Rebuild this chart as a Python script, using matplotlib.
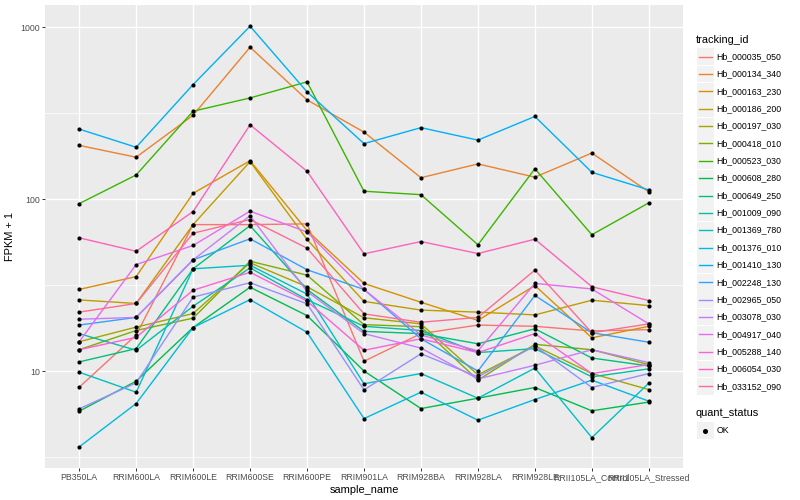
import numpy as np
import matplotlib
matplotlib.use("Agg")
import matplotlib.pyplot as plt
from matplotlib.patches import Rectangle
from matplotlib.lines import Line2D
from matplotlib.ticker import FixedLocator, NullFormatter

plt.rcParams["font.family"] = ["Liberation Sans", "DejaVu Sans"]

# ---- data ----
samples = [
    "PB350LA", "RRIM600LA", "RRIM600LE", "RRIM600SE", "RRIM600PE",
    "RRIM901LA", "RRIM928BA", "RRIM928LA", "RRIM928LE",
    "RRII105LA_Control", "RRII105LA_Stressed",
]
tracking_ids = [
    "Hb_000035_050", "Hb_000134_340", "Hb_000163_230", "Hb_000186_200",
    "Hb_000197_030", "Hb_000418_010", "Hb_000523_030", "Hb_000608_280",
    "Hb_000649_250", "Hb_001009_090", "Hb_001369_780", "Hb_001376_010",
    "Hb_001410_130", "Hb_002248_130", "Hb_002965_050", "Hb_003078_030",
    "Hb_004917_040", "Hb_005288_140", "Hb_006054_030", "Hb_033152_090",
]

# FPKM + 1 per gene, one value per sample
hb_000035_050 = [8.05, 16.2, 71, 71, 71.7, 11.4, 16.5, 18.5, 18.2, 17.1, 17.4]
hb_000134_340 = [205, 175, 307, 763, 377, 245, 133, 160, 134, 185, 110]
hb_000163_230 = [29.8, 35.4, 108, 167, 65.6, 32.3, 25.1, 19.7, 31.4, 15.6, 18.2]
hb_000186_200 = [25.9, 24.7, 71, 165, 58.2, 25.4, 22.6, 22.0, 21.2, 25.8, 24.0]
hb_000197_030 = [14.8, 18.0, 21.6, 42.6, 30.9, 20.4, 18.8, 9.5, 14.0, 9.67, 7.8]
hb_000418_010 = [13.3, 17.2, 20.3, 43.5, 36.1, 18.6, 18.1, 8.85, 14.3, 13.3, 10.9]
hb_000523_030 = [94, 138, 324, 387, 480, 111, 106, 54.2, 150, 62, 95]
hb_000608_280 = [5.84, 8.73, 17.9, 30.7, 21.0, 10.0, 6.05, 6.95, 8.02, 5.87, 6.6]
hb_000649_250 = [11.3, 13.5, 39.3, 70, 29.8, 17.0, 16.5, 14.4, 17.6, 11.9, 10.7]
hb_001009_090 = [16.5, 13.2, 23.8, 39.8, 26.0, 18.2, 17.2, 12.8, 13.5, 9.25, 10.3]
hb_001369_780 = [9.84, 7.53, 39.3, 41.2, 28.0, 8.43, 9.67, 6.95, 10.4, 4.1, 8.5]
hb_001376_010 = [3.62, 6.47, 17.9, 26.0, 16.8, 5.29, 7.53, 5.18, 6.83, 8.85, 6.68]
hb_001410_130 = [255, 200, 463, 1011, 420, 210, 260, 220, 302, 143, 113]
hb_002248_130 = [18.5, 20.5, 44.3, 58.7, 38.8, 29.8, 15.4, 10.0, 27.5, 16.7, 14.7]
hb_002965_050 = [6.03, 8.53, 26.9, 32.6, 24.6, 7.77, 12.6, 9.25, 14.0, 8.02, 9.67]
hb_003078_030 = [20.0, 20.5, 44.3, 80, 29.0, 16.5, 13.6, 9.0, 10.8, 13.3, 11.2]
hb_004917_040 = [14.8, 41.6, 53.7, 85, 64.3, 29.8, 16.2, 13.1, 32.3, 30.0, 18.8]
hb_005288_140 = [13.3, 15.7, 29.5, 37.5, 25.5, 13.2, 15.4, 12.8, 16.5, 9.67, 10.9]
hb_006054_030 = [59.5, 49.7, 84.6, 270, 145, 48, 56.6, 48.2, 58.4, 30.9, 25.7]
hb_033152_090 = [22.0, 24.7, 63.3, 76, 51.8, 21.5, 19.2, 20.5, 38.6, 16.7, 18.8]

series = [
    hb_000035_050, hb_000134_340, hb_000163_230, hb_000186_200,
    hb_000197_030, hb_000418_010, hb_000523_030, hb_000608_280,
    hb_000649_250, hb_001009_090, hb_001369_780, hb_001376_010,
    hb_001410_130, hb_002248_130, hb_002965_050, hb_003078_030,
    hb_004917_040, hb_005288_140, hb_006054_030, hb_033152_090,
]

y_ticks = [10, 100, 1000]
y_tick_labels = ["10", "100", "1000"]

# ggplot2 default hue palette for 20 levels
colors = [
    "#F8766D", "#EA8331", "#D89000", "#C09B00", "#A3A500",
    "#7CAE00", "#39B600", "#00BB4E", "#00BF7D", "#00C1A3",
    "#00BFC4", "#00BAE0", "#00B0F6", "#35A2FF", "#9590FF",
    "#C77CFF", "#E76BF3", "#FA62DB", "#FF62BC", "#FF6C91",
]

W, H = 800, 500


def px(x, y):
    # pixel coords (from top-left) -> figure fraction
    return x / W, 1 - y / H


fig = plt.figure(figsize=(W / 100, H / 100), dpi=100)
ax = fig.add_axes([45 / W, 32 / H, 638 / W, 463 / H])
ax.set_facecolor("#EBEBEB")
for s in ax.spines.values():
    s.set_visible(False)

x = np.arange(len(samples))
for vals, col in zip(series, colors):
    ax.plot(x, vals, color=col, lw=1.0, zorder=2)
for vals in series:
    ax.scatter(x, vals, s=9, c="black", zorder=3, linewidths=0)

ax.set_yscale("log")
ax.set_ylim(2.73, 1343)
ax.set_xlim(-0.6, len(samples) - 0.4)

ax.set_yticks(y_ticks)
ax.set_yticklabels(y_tick_labels)
ax.yaxis.set_minor_locator(FixedLocator([10 ** 0.5, 10 ** 1.5, 10 ** 2.5]))
ax.yaxis.set_minor_formatter(NullFormatter())
ax.set_xticks(x)
ax.set_xticklabels(samples)

ax.set_axisbelow(True)
ax.grid(True, which="major", color="white", lw=1.0)
ax.grid(True, which="minor", axis="y", color="white", lw=0.5)
ax.tick_params(which="major", length=2.0, width=0.7, color="#333333",
               labelcolor="#4D4D4D", labelsize=6.3, pad=1.5)
ax.tick_params(which="minor", length=0)

ax.set_xlabel("sample_name", fontsize=7.9, labelpad=2)
ax.set_ylabel("FPKM + 1", fontsize=7.9, labelpad=4)

# ---- legend: tracking_id ----
fig.text(*px(696, 40), "tracking_id", fontsize=7.9, va="center", ha="left")
step = 17.35
for i, (name, col) in enumerate(zip(tracking_ids, colors)):
    yc = 56.7 + i * step
    x0, y0 = px(697, yc + 8.4)
    fig.add_artist(Rectangle((x0, y0), 16.8 / W, 16.8 / H,
                             transform=fig.transFigure,
                             facecolor="#F2F2F2", edgecolor="none"))
    xa, ya = px(699, yc)
    xb, _ = px(712, yc)
    fig.add_artist(Line2D([xa, xb], [ya, ya], transform=fig.transFigure,
                          color=col, lw=1.0))
    fig.text(*px(716.5, yc), name, fontsize=6.3, va="center", ha="left")

# ---- legend: quant_status ----
fig.text(*px(696, 413), "quant_status", fontsize=7.9, va="center", ha="left")
yc = 430.5
x0, y0 = px(697, yc + 8.4)
fig.add_artist(Rectangle((x0, y0), 16.8 / W, 16.8 / H,
                         transform=fig.transFigure,
                         facecolor="#F2F2F2", edgecolor="none"))
fig.add_artist(Line2D([px(705.4, yc)[0]], [px(705.4, yc)[1]],
                      transform=fig.transFigure, marker="o",
                      markersize=2.6, color="black", lw=0))
fig.text(*px(716.5, yc), "OK", fontsize=6.3, va="center", ha="left")

fig.savefig("out.png", dpi=100, facecolor="white")
